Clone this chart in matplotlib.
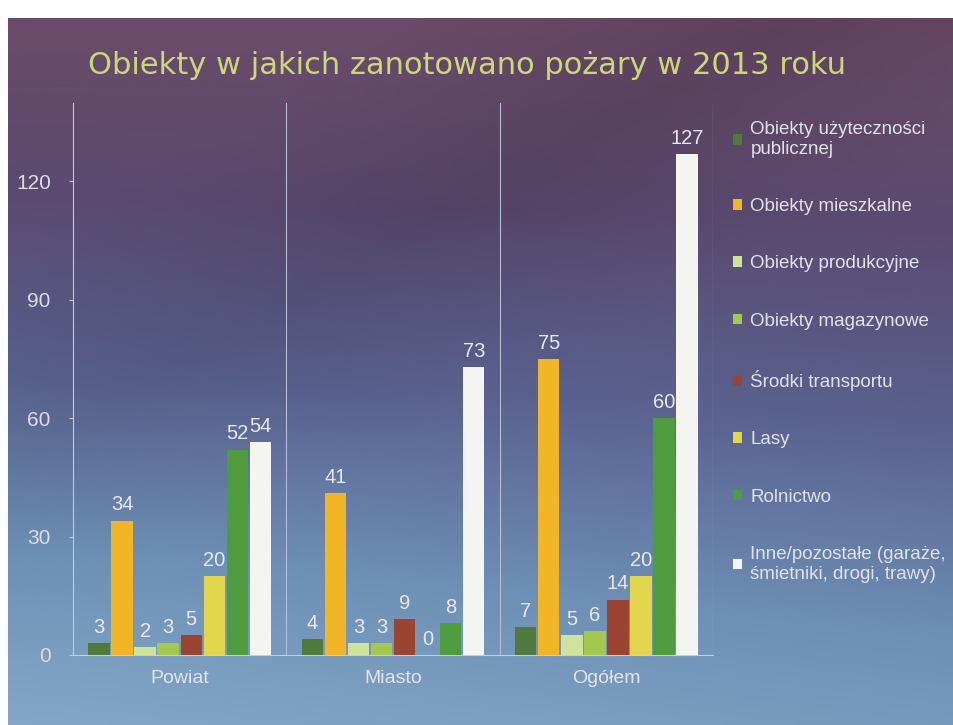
import numpy as np
import matplotlib.pyplot as plt
from matplotlib.colors import LinearSegmentedColormap

# dane
groups = ["Powiat", "Miasto", "Ogółem"]
series = ["Obiekty użyteczności\npublicznej", "Obiekty mieszkalne", "Obiekty produkcyjne",
          "Obiekty magazynowe", "Środki transportu", "Lasy", "Rolnictwo",
          "Inne/pozostałe (garaże,\nśmietniki, drogi, trawy)"]
values = [
    [3, 4, 7],
    [34, 41, 75],
    [2, 3, 5],
    [3, 3, 6],
    [5, 9, 14],
    [20, 0, 20],
    [52, 8, 60],
    [54, 73, 127],
]
colors = ["#4f7a3c", "#f2b526", "#cfe39a", "#a6c84e", "#9c4432", "#e2d64c", "#4f9c3e", "#f4f4f0"]
yticks = [0, 30, 60, 90, 120]

fig = plt.figure(figsize=(9.54, 7.25), dpi=100)

# tlo - gradient slajdu
bg = fig.add_axes([0.008, 0, 0.992, 0.975])
h, w = 300, 400
yy, xx = np.mgrid[0:1:h * 1j, 0:1:w * 1j]
t = yy * 0.85 + 0.15 * (1 - xx) * yy
band = np.clip(1 - np.abs((xx * 0.9 + yy * 1.2) - 0.75) / 0.35, 0, 1) * (1 - yy)
cmap = LinearSegmentedColormap.from_list("bg", ["#6b4a68", "#5a4a70", "#5a6290", "#6e90b6", "#84a6c6"])
img = cmap(t)
img[..., :3] *= (1 - 0.12 * band)[..., None]
bg.imshow(img, aspect="auto", extent=[0, 1, 0, 1])
bg.axis("off")

ax = fig.add_axes([0.0765, 0.0966, 0.671, 0.762])
ax.set_facecolor("none")

x = np.arange(len(groups))
step = 0.108
width = 0.1
n = len(series)
for i in range(n):
    pos = x + (i - (n - 1) / 2) * step
    bars = ax.bar(pos, values[i], width, color=colors[i], label=series[i], zorder=3)
    for b, v in zip(bars, values[i]):
        ax.text(b.get_x() + b.get_width() / 2, v + 1.6, str(v), ha="center", va="bottom",
                color="#e8e8f0", fontsize=14.5, family="Liberation Sans")

ax.set_xlim(-0.5, 2.5)
ax.set_ylim(0, 140)
ax.set_yticks(yticks)
ax.set_yticklabels([str(v) for v in yticks], color="#dcdce6", fontsize=15, family="Liberation Sans")
ax.set_xticks(x)
ax.set_xticklabels(groups, color="#e4e4ee", fontsize=14, family="Liberation Sans")
ax.tick_params(axis="x", length=0, pad=11)
ax.tick_params(axis="y", length=3, color="#c8c8d8", pad=13)
for s in ["top", "right"]:
    ax.spines[s].set_visible(False)
ax.spines["left"].set_color("#c8c8d8")
ax.spines["bottom"].set_color("#c8cce0")
ax.spines["left"].set_linewidth(0.8)
for xv in [0.5, 1.5, 2.5]:
    ax.axvline(xv, color="#b8bcd4", lw=0.8, zorder=1)

leg = ax.legend(loc="upper left", bbox_to_anchor=(1.01, 0.99), frameon=False,
                prop={"family": "Liberation Sans", "size": 13.5}, labelspacing=2.15,
                handlelength=0.5, handleheight=0.5, handletextpad=0.45, borderaxespad=0.3)
for txt in leg.get_texts():
    txt.set_color("#e2e2ec")

fig.text(0.49, 0.91, "Obiekty w jakich zanotowano pożary w 2013 roku", ha="center", va="center",
         color="#cfd67a", fontsize=22, family="DejaVu Sans")

fig.savefig("out.png", dpi=100)
